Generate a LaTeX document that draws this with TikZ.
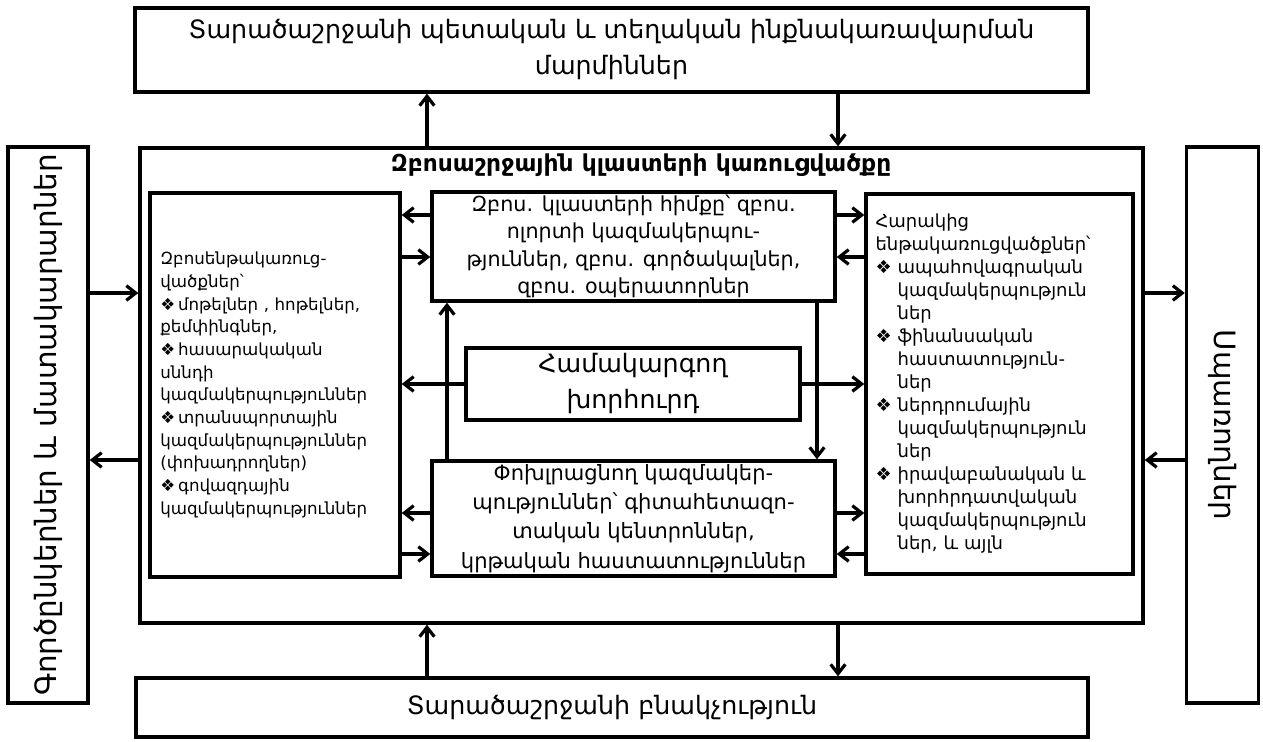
\documentclass[tikz,border=0pt]{standalone}
\usepackage{fontspec}
\setmainfont{DejaVu Sans}
\usetikzlibrary{arrows.meta}

\newcommand\bul{❖\,}
\newcommand\rbul{❖\ }
\newcommand\rind{\phantom{❖\ }}

\begin{document}
\begin{tikzpicture}[x=0.75pt,y=-0.75pt,
  box/.style={draw, rectangle, line width=2.6pt, inner sep=0pt},
  arr/.style={line width=2.4pt, -{Straight Barb[length=7pt,width=11pt]}},
  large/.style={font=\fontsize{19}{27}\selectfont},
  side/.style={font=\fontsize{22}{26}\selectfont}]
\useasboundingbox (0,0) rectangle (1263,742);

% outer boxes
\node[box, large, align=center, minimum width=714.75pt, minimum height=63pt] (top) at (611.5,50)
  {Տարածաշրջանի պետական և տեղական ինքնակառավարման\\մարմիններ};
\node[box, large, minimum width=714pt, minimum height=44.25pt] (bot) at (612,707.5)
  {Տարածաշրջանի բնակչություն};
\node[box, minimum width=60pt, minimum height=417pt] (lo) at (48,425) {};
\node[side, rotate=90] (lotext) at (lo.center) {Գործընկերներ և մատակարարներ};
\node[box, minimum width=54pt, minimum height=417pt] (ro) at (1222.5,425) {};
\node[side, rotate=-90] (rotext) at (ro.center) {Սպառողներ};

% cluster
\node[box, minimum width=752.25pt, minimum height=356.25pt] (big) at (641.5,385.5) {};
\node[font=\bfseries\fontsize{17.5}{20}\selectfont] (title) at (641,165)
  {Զբոսաշրջային կլաստերի կառուցվածքը};

\node[box, align=left, text width=172pt, minimum width=187.5pt, minimum height=288pt,
  font=\fontsize{12.5}{17}\selectfont] (inL) at (275,385)
  {Զբոսենթակառուց-\\վածքներ՝\\
   \bul մոթելներ , հոթելներ,\\քեմփինգներ,\\
   \bul հասարակական\\սննդի\\կազմակերպություններ\\
   \bul տրանսպորտային\\կազմակերպություններ\\(փոխադրողներ)\\
   \bul գովազդային\\կազմակերպություններ};
\node[box, align=center, minimum width=302.25pt, minimum height=81.75pt,
  font=\fontsize{15.5}{20.5}\selectfont] (inT) at (633.5,246.5)
  {Զբոս. կլաստերի հիմքը՝ զբոս.\\ոլորտի կազմակերպու-\\թյուններ, զբոս. գործակալներ,\\զբոս. օպերատորներ};
\node[box, align=center, minimum width=250.5pt, minimum height=54pt,
  font=\fontsize{19}{27}\selectfont] (inC) at (633,384)
  {Համակարգող\\խորհուրդ};
\node[box, align=center, minimum width=302.25pt, minimum height=86.25pt,
  font=\fontsize{15.8}{22}\selectfont] (inB) at (633.5,518.5)
  {Փոխլրացնող կազմակեր-\\պություններ՝ գիտահետազո-\\տական կենտրոններ,\\կրթական հաստատություններ};
\node[box, align=left, text width=186pt, minimum width=200.25pt, minimum height=285pt,
  font=\fontsize{13.5}{17.25}\selectfont] (inR) at (999.5,384)
  {Հարակից\\ենթակառուցվածքներ՝\\
   \rbul ապահովագրական\\\rind կազմակերպություն\\\rind ներ\\
   \rbul ֆինանսական\\\rind հաստատություն-\\\rind ներ\\
   \rbul ներդրումային\\\rind կազմակերպություն\\\rind ներ\\
   \rbul իրավաբանական և\\\rind խորհրդատվական\\\rind կազմակերպություն\\\rind ներ, և այլն};

% arrow rows and columns
\coordinate (c1) at (427,0);
\coordinate (c2) at (838,0);
\coordinate (v1) at (447,0);
\coordinate (v2) at (817,0);
\coordinate (o1) at (0,293);
\coordinate (o2) at (0,460);
\coordinate (r1) at (0,215);
\coordinate (r2) at (0,257);
\coordinate (r4) at (0,513);
\coordinate (r5) at (0,554);

% outside links
\draw[arr] (big.north -| c1) -- (top.south -| c1);
\draw[arr] (top.south -| c2) -- (big.north -| c2);
\draw[arr] (bot.north -| c1) -- (big.south -| c1);
\draw[arr] (big.south -| c2) -- (bot.north -| c2);
\draw[arr] (lo.east |- o1) -- (big.west |- o1);
\draw[arr] (big.west |- o2) -- (lo.east |- o2);
\draw[arr] (big.east |- o1) -- (ro.west |- o1);
\draw[arr] (ro.west |- o2) -- (big.east |- o2);

% inside links
\draw[arr] (inT.west |- r1) -- (inL.east |- r1);
\draw[arr] (inL.east |- r2) -- (inT.west |- r2);
\draw[arr] (inT.east |- r1) -- (inR.west |- r1);
\draw[arr] (inR.west |- r2) -- (inT.east |- r2);
\draw[arr] (inC.west) -- (inL.east |- inC.west);
\draw[arr] (inC.east) -- (inR.west |- inC.east);
\draw[arr] (inB.north -| v1) -- (inT.south -| v1);
\draw[arr] (inT.south -| v2) -- (inB.north -| v2);
\draw[arr] (inB.west |- r4) -- (inL.east |- r4);
\draw[arr] (inL.east |- r5) -- (inB.west |- r5);
\draw[arr] (inB.east |- r4) -- (inR.west |- r4);
\draw[arr] (inR.west |- r5) -- (inB.east |- r5);
\end{tikzpicture}
\end{document}
